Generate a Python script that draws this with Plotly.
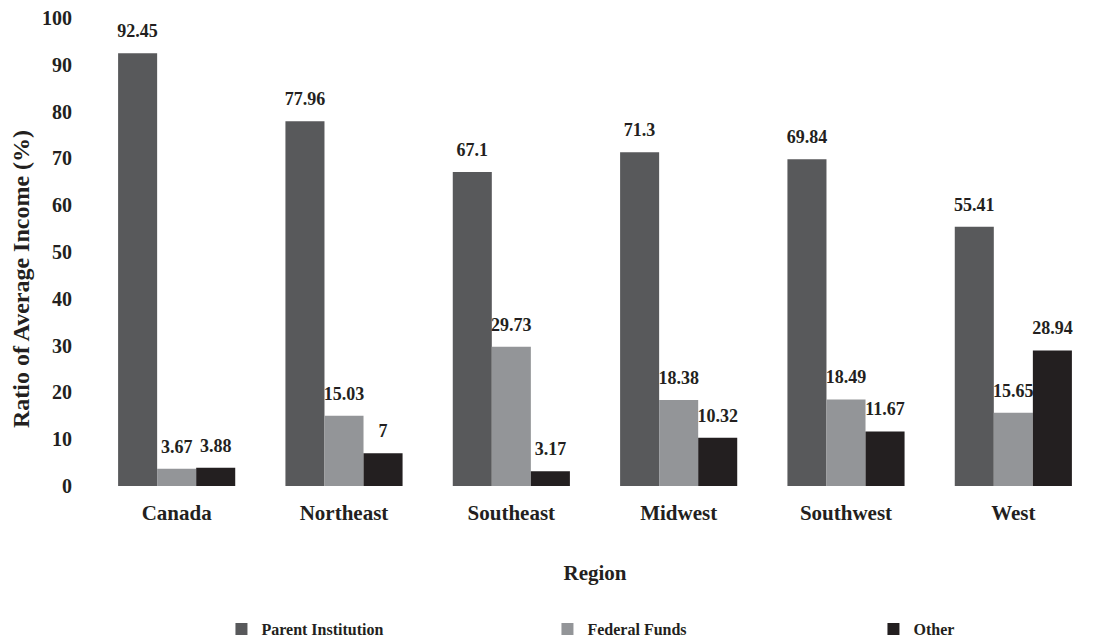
import plotly.graph_objects as go

regions = ["Canada", "Northeast", "Southeast", "Midwest", "Southwest", "West"]
parent = [92.45, 77.96, 67.1, 71.3, 69.84, 55.41]
federal = [3.67, 15.03, 29.73, 18.38, 18.49, 15.65]
other = [3.88, 7, 3.17, 10.32, 11.67, 28.94]
series = [("Parent Institution", parent, "#58595b"),
          ("Federal Funds", federal, "#939598"),
          ("Other", other, "#231f20")]
yticks = [0, 10, 20, 30, 40, 50, 60, 70, 80, 90, 100]

FONT = "Liberation Serif"
fig = go.Figure()
for name, vals, col in series:
    fig.add_trace(go.Bar(
        x=regions, y=vals, name=name, marker_color=col, marker_line_width=0,
        offsetgroup=name,
    ))
for name, vals, col in series:
    fig.add_trace(go.Scatter(
        x=regions, y=vals, mode="markers+text", offsetgroup=name, showlegend=False,
        marker=dict(size=17, opacity=0), hoverinfo="skip",
        text=[f"{v:g}" for v in vals], textposition="top center",
        textfont=dict(family=FONT, size=18, color="#231f20", weight="bold"),
        cliponaxis=False,
    ))

fig.update_layout(
    width=1109, height=638, barmode="group", bargap=0.3, bargroupgap=0,
    scattermode="group", scattergap=0.3,
    plot_bgcolor="white", paper_bgcolor="white",
    margin=dict(l=85, r=20, t=10, b=160, autoexpand=False),
    font=dict(family=FONT, color="#231f20"),
    xaxis=dict(showline=False, showgrid=False, ticks="", ticklabelstandoff=12,
               tickfont=dict(family=FONT, size=21, color="#231f20", weight="bold"),
               title=dict(text="Region", font=dict(family=FONT, size=21, weight="bold"), standoff=41)),
    yaxis=dict(range=[0, 100], tickvals=yticks, showgrid=False, showline=False, zeroline=False,
               ticklabeloverflow="allow",
               tickfont=dict(family=FONT, size=20, color="#231f20", weight="bold"), ticklabelstandoff=20,
               title=dict(text="Ratio of Average Income (%)" + "\u2003" * 2
                          + "<span style='color:rgba(0,0,0,0)'>.</span>",
                          font=dict(family=FONT, size=24, weight="bold", color="#231f20"), standoff=11)),
    legend=dict(orientation="h", x=0.615, xanchor="center", yref="container", y=0.0, yanchor="bottom",
                font=dict(family=FONT, size=16, color="#231f20", weight="bold"), entrywidth=281,
                itemwidth=30),
    showlegend=True,
)
fig.write_html("out.html")
